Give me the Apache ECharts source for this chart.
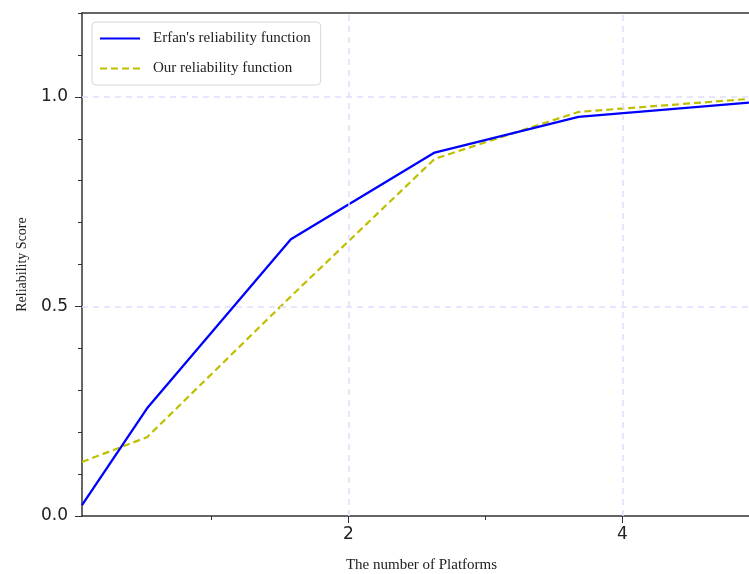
<!DOCTYPE html>
<html>
<head>
<meta charset="utf-8">
<script src="https://cdn.jsdelivr.net/npm/echarts@6/dist/echarts.min.js"></script>
<style>
  html, body { margin: 0; padding: 0; background: #fff; }
  #chart { width: 749px; height: 574px; }
</style>
</head>
<body>
<div id="chart"></div>
<script>
// values
var platforms = [0.055, 0.53, 1.58, 2.63, 3.68, 4.925];
var erfanScore = [0.026, 0.257, 0.660, 0.867, 0.952, 0.986];
var ourScore = [0.129, 0.188, 0.524, 0.852, 0.964, 0.995];
var xMajorTicks = [2, 4];
var xMinorTicks = [1, 3];
var yMajorTicks = [0, 0.5, 1.0];
var gridX = [2, 4];
var gridY = [0.5, 1.0];

var xMin = 0.055, xMax = 4.925;
var yMin = 0, yMax = 1.2;

function pairs(xs, ys) {
  var out = [];
  for (var i = 0; i < xs.length; i++) out.push([xs[i], ys[i]]);
  return out;
}

var axisColor = '#333';
var tickFont = { fontFamily: 'DejaVu Sans', fontSize: 17, color: '#222' };
var serif = 'Liberation Serif';

var markData = [];
gridX.forEach(function (v) { markData.push({ xAxis: v }); });
gridY.forEach(function (v) { markData.push({ yAxis: v }); });

var option = {
  animation: false,
  grid: { left: 82, right: 0, top: 13, bottom: 58, outerBoundsMode: 'none', containLabel: false },
  legend: {
    data: ["Erfan's reliability function", 'Our reliability function'],
    orient: 'vertical',
    left: 92,
    top: 22,
    itemWidth: 40,
    itemHeight: 14,
    itemGap: 15,
    padding: [9, 10, 9, 7],
    itemStyle: { opacity: 0 },
    backgroundColor: 'rgba(255,255,255,0.85)',
    borderColor: '#d8d8d8',
    borderWidth: 1,
    borderRadius: 4,
    textStyle: { fontFamily: serif, fontSize: 15, color: '#222', padding: [0, 0, 0, 8] }
  },
  xAxis: [
    {
      type: 'value', min: xMin, max: xMax, position: 'bottom',
      name: 'The number of Platforms', nameLocation: 'middle', nameGap: 42,
      nameTextStyle: { fontFamily: serif, fontSize: 15, color: '#222', padding: [0, 0, 0, 12] },
      axisLine: { show: true, lineStyle: { color: axisColor, width: 1.5 } },
      axisTick: { show: true, customValues: xMinorTicks, length: 4, lineStyle: { color: axisColor } },
      axisLabel: { show: false },
      splitLine: { show: false }
    },
    {
      type: 'value', min: xMin, max: xMax, position: 'bottom',
      axisLine: { show: false },
      axisTick: { show: true, customValues: xMajorTicks, length: 7, lineStyle: { color: axisColor } },
      axisLabel: Object.assign({ customValues: xMajorTicks, margin: 10 }, tickFont),
      splitLine: { show: false }
    },
    {
      type: 'value', min: xMin, max: xMax, position: 'top',
      axisLine: { show: true, lineStyle: { color: axisColor, width: 1.5 } },
      axisTick: { show: false },
      axisLabel: { show: false },
      splitLine: { show: false }
    }
  ],
  yAxis: [
    {
      type: 'value', min: yMin, max: yMax, interval: 0.1, position: 'left',
      name: 'Reliability Score', nameLocation: 'middle', nameGap: 53,
      nameTextStyle: { fontFamily: serif, fontSize: 14, color: '#222' },
      axisLine: { show: true, lineStyle: { color: axisColor, width: 1.5 } },
      axisTick: { show: true, length: 4, lineStyle: { color: axisColor } },
      axisLabel: { show: false },
      splitLine: { show: false }
    },
    {
      type: 'value', min: yMin, max: yMax, position: 'left',
      axisLine: { show: false },
      axisTick: { show: true, customValues: yMajorTicks, length: 7, lineStyle: { color: axisColor } },
      axisLabel: Object.assign({
        customValues: yMajorTicks, margin: 14,
        formatter: function (v) { return v.toFixed(1); }
      }, tickFont),
      splitLine: { show: false }
    }
  ],
  series: [
    {
      name: 'grid', type: 'line', data: [], z: 1, silent: true,
      markLine: {
        silent: true, symbol: 'none', label: { show: false },
        lineStyle: { color: '#dedeff', width: 1.5, type: [6, 5] },
        data: markData
      }
    },
    {
      name: "Erfan's reliability function", type: 'line', z: 3,
      data: pairs(platforms, erfanScore),
      symbol: 'none', color: '#0000ff',
      lineStyle: { color: '#0000ff', width: 2.3 }
    },
    {
      name: 'Our reliability function', type: 'line', z: 2,
      data: pairs(platforms, ourScore),
      symbol: 'none', color: '#bfbf00',
      lineStyle: { color: '#bfbf00', width: 2.2, type: [7, 4] }
    }
  ]
};

var mychart = echarts.init(document.getElementById('chart'));
mychart.setOption(option);
</script>
</body>
</html>
